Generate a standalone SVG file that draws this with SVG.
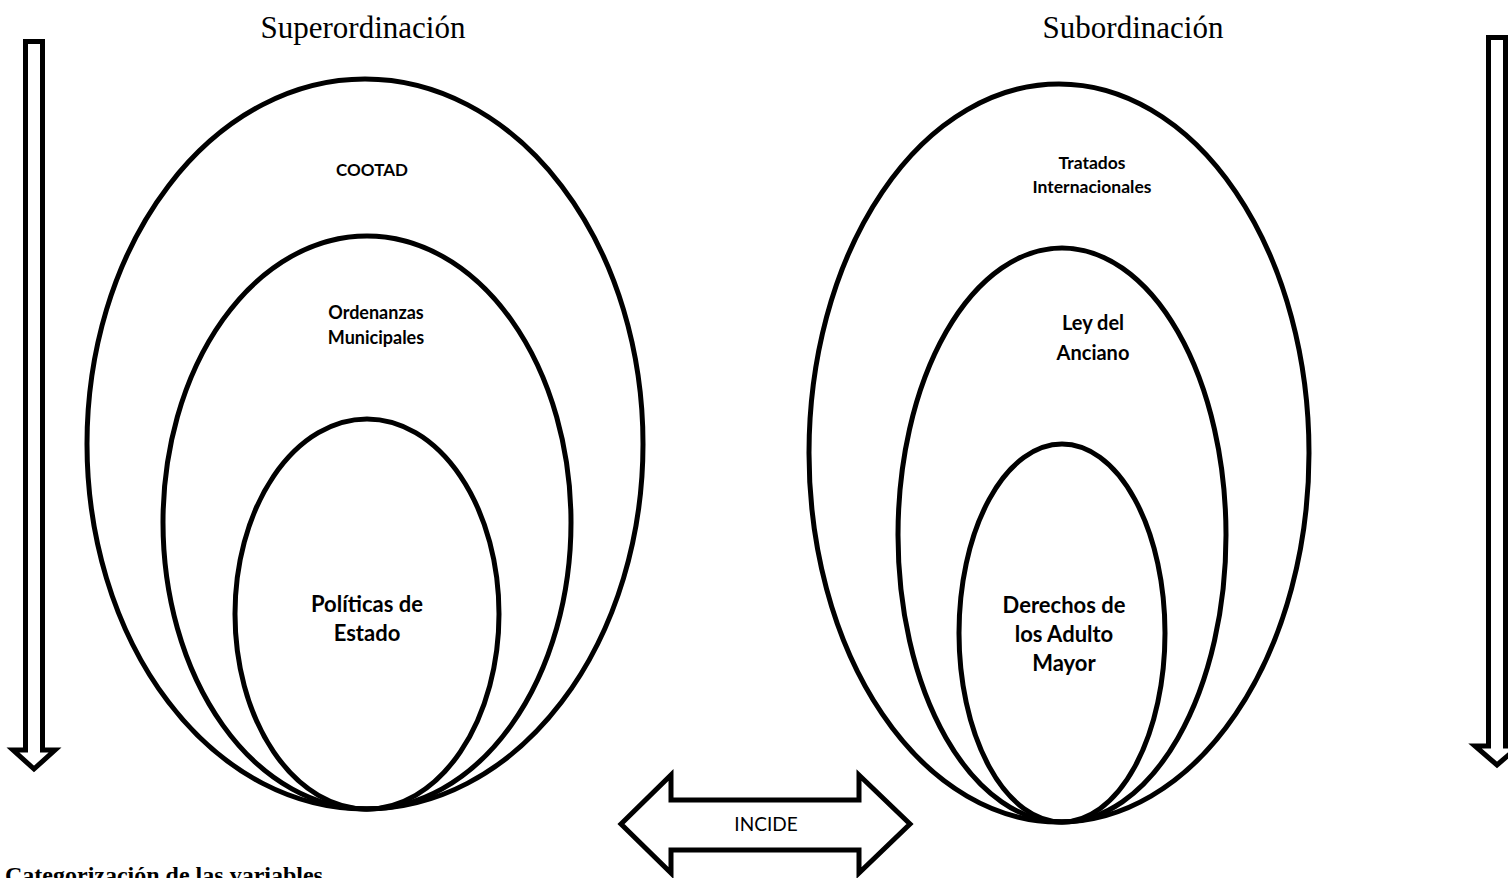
<svg xmlns="http://www.w3.org/2000/svg" width="1508" height="878" viewBox="0 0 1508 878">
<style>
.sh{fill:none;stroke:#000;stroke-width:5}
.ar{fill:#fff;stroke:#000;stroke-width:5;stroke-linejoin:miter}
.t{font-family:"Liberation Serif","Times New Roman",serif;fill:#000}
.l{font-family:Lato,"Open Sans","Liberation Sans",sans-serif;font-weight:bold;fill:#000;text-anchor:middle}
</style>
<rect width="1508" height="878" fill="#fff"/>
<text class="t" x="363" y="38" font-size="31" text-anchor="middle">Superordinación</text>
<text class="t" x="1133" y="38" font-size="31" text-anchor="middle">Subordinación</text>
<g id="arrow-left"><polygon class="ar" points="25.5,41.5 42.5,41.5 42.5,750 55,750 34,769 13,750 25.5,750"/></g>
<g id="arrow-right"><polygon class="ar" points="1488.5,37.5 1505.5,37.5 1505.5,746 1519,746 1497,765 1475,746 1488.5,746"/></g>
<g id="cootad"><ellipse class="sh" cx="365" cy="444" rx="278" ry="365"/><text class="l" x="372" y="176" font-size="17">COOTAD</text></g>
<g id="ordenanzas"><ellipse class="sh" cx="367" cy="522.5" rx="204" ry="286.5"/><text class="l" x="376" y="319" font-size="18"><tspan x="376">Ordenanzas</tspan><tspan x="376" dy="25">Municipales</tspan></text></g>
<g id="politicas"><ellipse class="sh" cx="367" cy="614" rx="132" ry="195"/><text class="l" x="367" y="612" font-size="22"><tspan x="367">Políticas de</tspan><tspan x="367" dy="29">Estado</tspan></text></g>
<g id="tratados"><ellipse class="sh" cx="1059" cy="453" rx="250" ry="369"/><text class="l" x="1092" y="169" font-size="17.5"><tspan x="1092">Tratados</tspan><tspan x="1092" dy="24">Internacionales</tspan></text></g>
<g id="ley"><ellipse class="sh" cx="1062" cy="535" rx="164" ry="287"/><text class="l" x="1093" y="330" font-size="20"><tspan x="1093">Ley del</tspan><tspan x="1093" dy="30">Anciano</tspan></text></g>
<g id="derechos"><ellipse class="sh" cx="1062" cy="633" rx="103" ry="189"/><text class="l" x="1064" y="613" font-size="22"><tspan x="1064">Derechos de</tspan><tspan x="1064" dy="29">los Adulto</tspan><tspan x="1064" dy="29">Mayor</tspan></text></g>
<g id="connectors"><g id="incide"><polygon class="ar" points="621,824 671,775 671,800 859,800 859,775 910,824 859,873 859,850 671,850 671,873"/><text x="766" y="831" font-size="19" text-anchor="middle" font-family="Lato,'Open Sans','Liberation Sans',sans-serif">INCIDE</text></g></g>
<text class="t" x="5" y="883" font-size="24" font-weight="bold">Categorización de las variables</text>
</svg>
